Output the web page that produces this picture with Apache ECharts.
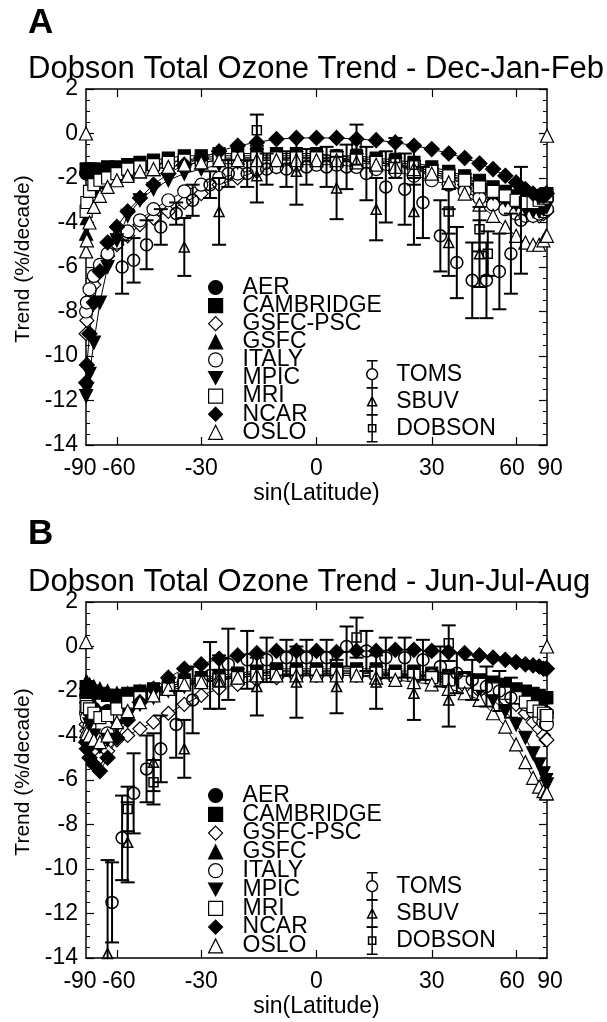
<!DOCTYPE html>
<html><head><meta charset="utf-8">
<script src="https://cdn.jsdelivr.net/npm/echarts@6/dist/echarts.min.js"></script>
<style>html,body{margin:0;padding:0;background:#fff}#c{width:607px;height:1022px}</style>
</head><body><div id="c"></div>
<script>
// ---------------- DATA ----------------
const LAT = [-88,-85,-80,-75,-70,-65,-60,-55,-50,-45,-40,-35,-30,-25,-20,-15,-10,-5,0,5,10,15,20,25,30,35,40,45,50,55,60,65,70,75,80,85,88];
const MODELS = ['AER','CAMBRIDGE','GSFC-PSC','GSFC','ITALY','MPIC','MRI','NCAR','OSLO'];
const OBS = ['TOMS','SBUV','DOBSON'];
const X_TICK_DEG = [-90,-60,-30,0,30,60,90];
const X_INNER_TICK_DEG = [-60,-30,0,30,60];
const Y_MIN = -14, Y_MAX = 2, Y_STEP = 2;

// Panel A: Dec-Jan-Feb model trends (%/decade) on LAT
const djfAER       = [-1.8,-1.8,-1.8,-1.8,-1.8,-1.8,-1.7,-1.6,-1.5,-1.4,-1.3,-1.2,-1.1,-1.0,-1.0,-1.0,-1.0,-1.0,-1.0,-1.0,-1.1,-1.2,-1.3,-1.4,-1.6,-1.8,-2.0,-2.3,-2.6,-2.9,-3.1,-3.2,-3.2,-3.1,-3.0,-2.9,-2.9];
const djfCAMBRIDGE = [-1.6,-1.6,-1.6,-1.6,-1.6,-1.5,-1.5,-1.4,-1.3,-1.2,-1.1,-1.0,-1.0,-0.9,-0.9,-0.9,-0.9,-0.9,-0.9,-1.0,-1.0,-1.1,-1.2,-1.3,-1.5,-1.7,-1.9,-2.1,-2.4,-2.6,-2.8,-3.0,-3.0,-2.9,-2.8,-2.7,-2.7];
const djfGSFCPSC   = [-9.0,-8.4,-7.6,-6.8,-6.1,-5.5,-5.0,-4.6,-4.1,-3.8,-3.5,-3.1,-2.7,-2.3,-2.0,-1.7,-1.5,-1.3,-1.2,-1.2,-1.2,-1.3,-1.4,-1.6,-1.8,-2.0,-2.3,-2.6,-2.9,-3.2,-3.4,-3.6,-3.7,-3.7,-3.6,-3.5,-3.5];
const djfGSFC      = [-4.5,-3.8,-3.0,-2.5,-2.2,-2.0,-1.9,-1.8,-1.7,-1.6,-1.5,-1.4,-1.3,-1.2,-1.1,-1.1,-1.1,-1.1,-1.1,-1.1,-1.2,-1.3,-1.4,-1.6,-1.8,-2.0,-2.2,-2.5,-2.8,-3.1,-3.3,-3.4,-3.4,-3.3,-3.2,-3.1,-3.1];
const djfITALY     = [-8.0,-7.6,-7.0,-6.4,-5.9,-5.4,-4.9,-4.4,-3.9,-3.4,-3.0,-2.6,-2.3,-2.0,-1.8,-1.6,-1.5,-1.4,-1.4,-1.4,-1.5,-1.6,-1.7,-1.9,-2.1,-2.3,-2.6,-2.9,-3.2,-3.4,-3.6,-3.7,-3.7,-3.6,-3.5,-3.4,-3.4];
const djfMPIC      = [-11.8,-11.5,-10.8,-9.4,-7.6,-6.0,-4.8,-3.7,-3.0,-2.5,-2.1,-1.8,-1.6,-1.4,-1.3,-1.2,-1.2,-1.1,-1.1,-1.1,-1.2,-1.3,-1.4,-1.5,-1.7,-1.9,-2.1,-2.4,-2.7,-3.0,-3.2,-3.4,-3.5,-3.5,-3.4,-3.3,-3.3];
const djfMRI       = [-3.5,-3.1,-2.6,-2.3,-2.1,-2.0,-1.8,-1.6,-1.5,-1.4,-1.3,-1.2,-1.2,-1.1,-1.1,-1.1,-1.1,-1.1,-1.1,-1.1,-1.2,-1.3,-1.4,-1.5,-1.7,-1.9,-2.1,-2.4,-2.6,-2.8,-3.0,-3.1,-3.1,-3.0,-2.9,-2.8,-2.8];
const djfNCAR      = [-11.2,-10.4,-9.0,-7.6,-6.2,-4.9,-4.2,-3.5,-2.9,-2.3,-1.8,-1.4,-1.1,-0.8,-0.55,-0.4,-0.25,-0.2,-0.2,-0.2,-0.25,-0.3,-0.4,-0.55,-0.7,-0.9,-1.1,-1.35,-1.6,-1.9,-2.2,-2.5,-2.7,-2.8,-2.8,-2.7,-2.7];
const djfOSLO      = [-5.3,-4.8,-4.0,-3.3,-2.8,-2.4,-2.1,-1.9,-1.7,-1.6,-1.5,-1.4,-1.3,-1.2,-1.2,-1.2,-1.2,-1.2,-1.2,-1.2,-1.3,-1.4,-1.5,-1.6,-1.8,-2.2,-2.7,-3.2,-3.7,-4.2,-4.6,-4.9,-5.0,-5.0,-4.8,-4.6,-4.6];
const OSLO_POLE_LAT = [-90, 90];
const djfOSLOPole  = [0.0, -0.1];

// Panel A observations
const djfTOMSLat = [-57.5,-52.5,-47.5,-42.5,-37.5,-32.5,-27.5,-22.5,-17.5,-12.5,-7.5,-2.5,2.5,7.5,12.5,17.5,22.5,27.5,32.5,37.5,42.5,47.5,52.5,57.5,62.5];
const djfTOMS    = [-6.0,-5.7,-5.0,-4.2,-3.6,-3.0,-2.3,-1.8,-1.8,-1.6,-1.6,-1.5,-1.5,-1.5,-1.8,-2.4,-2.5,-3.1,-4.6,-5.8,-6.6,-6.6,-6.2,-5.4,-3.9];
const djfTOMSErr = [1.2,1.0,1.1,0.8,0.5,0.7,0.6,0.6,0.6,0.7,0.8,0.8,0.9,1.0,1.2,1.6,1.6,1.6,1.6,1.6,1.7,1.7,1.7,1.8,2.4];
const djfSBUVLat = [-35,-25,-15,-5,5,15,25,35,45];
const djfSBUV    = [-5.1,-3.5,-1.9,-1.7,-2.45,-3.4,-3.5,-4.9,-5.4];
const djfSBUVErr = [1.3,1.5,1.2,1.5,1.4,1.4,1.5,1.5,1.5];
const djfDOBLat  = [-15,10,20,25,35,45,48];
const djfDOB     = [0.15,-0.5,-1.1,-1.4,-3.5,-4.3,-5.4];
const djfDOBErr  = [0.7,0.9,0.9,0.9,1.0,1.0,1.0];

// Panel B: Jun-Jul-Aug model trends
const jjaAER       = [-2.2,-2.3,-2.5,-2.8,-3.0,-2.9,-2.6,-2.4,-2.2,-2.0,-1.8,-1.6,-1.5,-1.4,-1.3,-1.2,-1.1,-1.1,-1.1,-1.1,-1.1,-1.2,-1.2,-1.3,-1.3,-1.4,-1.5,-1.6,-1.8,-2.0,-2.2,-2.4,-2.6,-2.8,-2.9,-3.0,-3.0];
const jjaCAMBRIDGE = [-1.8,-1.8,-1.9,-2.0,-2.1,-2.2,-2.2,-2.1,-2.0,-1.9,-1.7,-1.5,-1.4,-1.3,-1.2,-1.1,-1.0,-1.0,-1.0,-1.0,-1.0,-1.0,-1.1,-1.1,-1.2,-1.3,-1.4,-1.5,-1.6,-1.7,-1.9,-2.0,-2.1,-2.2,-2.3,-2.3,-2.3];
const jjaGSFCPSC   = [-3.5,-3.8,-4.3,-4.8,-5.0,-4.7,-4.2,-4.0,-3.7,-3.4,-3.0,-2.6,-2.2,-1.9,-1.7,-1.5,-1.4,-1.3,-1.3,-1.3,-1.3,-1.3,-1.3,-1.4,-1.5,-1.6,-1.8,-2.0,-2.2,-2.4,-2.6,-3.0,-3.4,-3.7,-4.0,-4.2,-4.2];
const jjaGSFC      = [-1.6,-1.6,-1.7,-1.8,-1.9,-2.0,-2.1,-2.1,-2.0,-1.9,-1.8,-1.6,-1.5,-1.4,-1.3,-1.2,-1.1,-1.1,-1.1,-1.1,-1.1,-1.1,-1.2,-1.2,-1.3,-1.4,-1.5,-1.6,-1.7,-1.9,-2.1,-2.3,-2.5,-2.7,-2.8,-2.9,-2.9];
const jjaITALY     = [-3.0,-3.2,-3.6,-4.0,-4.2,-3.9,-3.3,-2.8,-2.4,-2.1,-1.9,-1.7,-1.6,-1.5,-1.4,-1.3,-1.3,-1.3,-1.3,-1.3,-1.3,-1.3,-1.3,-1.3,-1.3,-1.4,-1.5,-1.7,-1.9,-2.1,-2.3,-2.6,-2.9,-3.2,-3.4,-3.5,-3.5];
const jjaMPIC      = [-2.8,-3.0,-3.5,-4.0,-4.5,-4.2,-3.6,-3.1,-2.6,-2.3,-2.0,-1.8,-1.6,-1.5,-1.3,-1.2,-1.2,-1.2,-1.2,-1.2,-1.2,-1.2,-1.3,-1.3,-1.4,-1.5,-1.7,-2.0,-2.4,-2.9,-3.5,-4.1,-4.8,-5.3,-5.7,-6.0,-6.2];
const jjaMRI       = [-2.6,-2.7,-2.8,-3.0,-3.2,-3.1,-2.8,-2.5,-2.3,-2.1,-1.9,-1.7,-1.6,-1.5,-1.4,-1.3,-1.3,-1.2,-1.2,-1.2,-1.2,-1.2,-1.3,-1.3,-1.4,-1.5,-1.6,-1.7,-1.9,-2.1,-2.3,-2.5,-2.7,-2.9,-3.0,-3.1,-3.1];
const jjaNCAR      = [-4.3,-4.6,-5.0,-5.3,-5.6,-5.0,-4.1,-3.3,-2.5,-1.9,-1.4,-1.0,-0.8,-0.55,-0.4,-0.3,-0.2,-0.2,-0.2,-0.25,-0.2,-0.2,-0.15,-0.15,-0.2,-0.25,-0.3,-0.4,-0.5,-0.6,-0.7,-0.8,-0.85,-0.9,-1.0,-1.0,-1.0];
const jjaOSLO      = [-3.8,-3.9,-4.0,-4.2,-4.3,-4.0,-3.4,-2.9,-2.5,-2.2,-1.9,-1.7,-1.6,-1.5,-1.4,-1.3,-1.3,-1.3,-1.3,-1.3,-1.3,-1.4,-1.5,-1.6,-1.7,-1.9,-2.1,-2.4,-3.0,-3.6,-4.4,-5.2,-5.9,-6.3,-6.5,-6.6,-6.6];
const jjaOSLOPole  = [0.2, 0.0];

// Panel B observations
const jjaTOMSLat = [-62.5,-57.5,-52.5,-47.5,-42.5,-37.5,-32.5,-27.5,-22.5,-17.5,-12.5,-7.5,-2.5,2.5,7.5,12.5,17.5,22.5,27.5,32.5,37.5,42.5,47.5,52.5,57.5];
const jjaTOMS    = [-11.5,-8.6,-6.6,-5.5,-4.6,-3.5,-2.4,-1.3,-0.8,-0.6,-0.6,-0.5,-0.5,-0.5,0.0,-0.2,-0.5,-0.5,-0.6,-0.9,-1.2,-1.5,-1.8,-2.0,-2.3];
const jjaTOMSErr = [1.8,1.9,1.8,1.5,1.5,1.5,1.5,1.5,1.6,1.3,1.0,0.8,0.8,0.8,0.9,0.9,0.9,0.9,0.9,0.9,0.9,0.9,0.9,0.9,0.9];
const jjaSBUVLat = [-65,-55,-45,-35,-25,-15,-5,5,15,25,35];
const jjaSBUV    = [-13.8,-8.8,-5.2,-4.6,-1.6,-1.8,-1.6,-1.8,-1.6,-2.1,-2.4];
const jjaSBUVErr = [4.2,1.8,1.3,1.3,1.2,1.3,1.6,1.2,1.2,1.2,1.2];
const jjaDOBLat  = [-55,-45,10,35];
const jjaDOB     = [-7.3,-6.1,0.4,0.15];
const jjaDOBErr  = [1.0,1.0,0.9,0.8];

// ---------------- STYLES ----------------
const FONT = '"Liberation Sans", Arial, Helvetica, sans-serif';
const DOWN_TRI = 'path://M0,0L10,0L5,9Z';
const MSTYLE = {
  'AER':       {symbol:'circle',   size:13, fill:'#000'},
  'CAMBRIDGE': {symbol:'rect',     size:12, fill:'#000'},
  'GSFC-PSC':  {symbol:'diamond',  size:14, fill:'#fff'},
  'GSFC':      {symbol:'triangle', size:13, fill:'#000'},
  'ITALY':     {symbol:'circle',   size:13, fill:'#fff'},
  'MPIC':      {symbol:DOWN_TRI,   size:13, fill:'#000'},
  'MRI':       {symbol:'rect',     size:12, fill:'#fff'},
  'NCAR':      {symbol:'diamond',  size:15, fill:'#000'},
  'OSLO':      {symbol:'triangle', size:13, fill:'#fff'}
};
const OSTYLE = {
  'TOMS':   {symbol:'circle',   size:12, icon:'path://M1,0L13,0M7,0L7,9M7,21L7,30M1,30L13,30M7,9A6,6,0,1,1,7,21A6,6,0,1,1,7,9Z'},
  'SBUV':   {symbol:'triangle', size:10, icon:'path://M1,0L13,0M7,0L7,30M1,30L13,30M7,10L12,20L2,20Z'},
  'DOBSON': {symbol:'rect',     size:9,  icon:'path://M1,0L13,0M7,0L7,30M1,30L13,30M3,11L11,11L11,19L3,19Z'}
};

const DEG = Math.PI / 180;
const sx = d => Math.sin(d * DEG);

const PANELS = [
  {
    letter:'A', title:'Dobson Total Ozone Trend - Dec-Jan-Feb',
    models:{'AER':djfAER,'CAMBRIDGE':djfCAMBRIDGE,'GSFC-PSC':djfGSFCPSC,'GSFC':djfGSFC,'ITALY':djfITALY,'MPIC':djfMPIC,'MRI':djfMRI,'NCAR':djfNCAR,'OSLO':djfOSLO},
    osloPole: djfOSLOPole,
    obs:{'TOMS':[djfTOMSLat,djfTOMS,djfTOMSErr],'SBUV':[djfSBUVLat,djfSBUV,djfSBUVErr],'DOBSON':[djfDOBLat,djfDOB,djfDOBErr]},
    gridTop:89, letterTop:6, titleTop:54, legTop:276, legGap:-4.9, obsTop:360, obsGap:-1.5
  },
  {
    letter:'B', title:'Dobson Total Ozone Trend - Jun-Jul-Aug',
    models:{'AER':jjaAER,'CAMBRIDGE':jjaCAMBRIDGE,'GSFC-PSC':jjaGSFCPSC,'GSFC':jjaGSFC,'ITALY':jjaITALY,'MPIC':jjaMPIC,'MRI':jjaMRI,'NCAR':jjaNCAR,'OSLO':jjaOSLO},
    osloPole: jjaOSLOPole,
    obs:{'TOMS':[jjaTOMSLat,jjaTOMS,jjaTOMSErr],'SBUV':[jjaSBUVLat,jjaSBUV,jjaSBUVErr],'DOBSON':[jjaDOBLat,jjaDOB,jjaDOBErr]},
    gridTop:602, letterTop:517, titleTop:567, legTop:784, legGap:-4.2, obsTop:872, obsGap:-1.3
  }
];

// ---------------- OPTION ----------------
const grids = [], xAxes = [], yAxes = [], series = [], titles = [], legends = [];

function labelFmt(v) {
  const d = Math.round(Math.asin(Math.max(-1, Math.min(1, v))) / DEG);
  if (d === -90) return '{l|-90}';
  if (d === -60) return '{m|-60}';
  if (d === 60) return '{s|60}';
  if (d === 90) return '{r|90}';
  return '{n|' + d + '}';
}
const RICH_BASE = {fontSize:23, fontFamily:FONT, color:'#000'};
const RICH = {
  n: Object.assign({}, RICH_BASE),
  l: Object.assign({padding:[0,12,0,0]}, RICH_BASE),
  m: Object.assign({padding:[0,0,0,4]}, RICH_BASE),
  s: Object.assign({padding:[0,8,0,0]}, RICH_BASE),
  r: Object.assign({padding:[0,0,0,6]}, RICH_BASE)
};

PANELS.forEach((P, pi) => {
  grids.push({left:86, top:P.gridTop, width:461, height:356, containLabel:false});
  const xi = pi * 2, yi = pi * 2;
  xAxes.push({
    type:'value', gridIndex:pi, position:'bottom', min:-1, max:1,
    name:'sin(Latitude)', nameLocation:'middle', nameGap:37,
    nameTextStyle:{fontSize:23, fontFamily:FONT, color:'#000'},
    axisLine:{show:true, onZero:false, lineStyle:{color:'#000', width:1.5}},
    axisTick:{show:true, inside:true, length:8, lineStyle:{color:'#000', width:1.2}, customValues:X_INNER_TICK_DEG.map(sx)},
    axisLabel:{show:true, margin:12, customValues:X_TICK_DEG.map(sx), formatter:labelFmt, rich:RICH, fontSize:23, fontFamily:FONT, color:'#000'},
    splitLine:{show:false}
  });
  xAxes.push({
    type:'value', gridIndex:pi, position:'top', min:-1, max:1,
    axisLine:{show:true, onZero:false, lineStyle:{color:'#000', width:1.5}},
    axisTick:{show:true, inside:true, length:8, lineStyle:{color:'#000', width:1.2}, customValues:X_INNER_TICK_DEG.map(sx)},
    axisLabel:{show:false}, splitLine:{show:false}
  });
  yAxes.push({
    type:'value', gridIndex:pi, position:'left', min:Y_MIN, max:Y_MAX, interval:Y_STEP,
    name:'Trend (%/decade)', nameLocation:'middle', nameGap:52,
    nameTextStyle:{fontSize:21, fontFamily:FONT, color:'#000', padding:[0,0,0,16]},
    axisLine:{show:true, onZero:false, lineStyle:{color:'#000', width:1.5}},
    axisTick:{show:true, inside:true, length:8, lineStyle:{color:'#000', width:1.2}},
    minorTick:{show:true, splitNumber:4, length:4, lineStyle:{color:'#000', width:1}},
    axisLabel:{show:true, margin:8, fontSize:23, fontFamily:FONT, color:'#000'},
    splitLine:{show:false}, minorSplitLine:{show:false}
  });
  yAxes.push({
    type:'value', gridIndex:pi, position:'right', min:Y_MIN, max:Y_MAX, interval:Y_STEP,
    axisLine:{show:true, onZero:false, lineStyle:{color:'#000', width:1.5}},
    axisTick:{show:true, inside:true, length:8, lineStyle:{color:'#000', width:1.2}},
    minorTick:{show:true, splitNumber:4, length:4, lineStyle:{color:'#000', width:1}},
    axisLabel:{show:false}, splitLine:{show:false}
  });

  titles.push({text:P.letter, left:28, top:P.letterTop, padding:0,
    textStyle:{fontSize:35, fontWeight:'bold', fontFamily:FONT, color:'#000'}});
  titles.push({text:P.title, left:28, top:P.titleTop, padding:0,
    textStyle:{fontSize:31, fontWeight:'normal', fontFamily:FONT, color:'#000'}});

  MODELS.forEach(m => {
    const pts = LAT.map((l, i) => [sx(l), P.models[m][i]]);
    series.push({
      type:'line', name:m + ' curve', xAxisIndex:xi, yAxisIndex:yi, data:pts,
      showSymbol:false, symbol:'none', z:2, silent:true,
      lineStyle:{color:'#000', width:1}
    });
  });
  MODELS.forEach(m => {
    const st = MSTYLE[m];
    let pts = LAT.map((l, i) => [sx(l), P.models[m][i]]);
    if (m === 'OSLO') pts = pts.concat(OSLO_POLE_LAT.map((l, i) => [sx(l), P.osloPole[i]]));
    series.push({
      type:'scatter', name:m, xAxisIndex:xi, yAxisIndex:yi, data:pts,
      symbol:st.symbol, symbolSize:st.size, z:3, silent:true,
      itemStyle:{color:st.fill, borderColor:'#000', borderWidth:1.2, opacity:1}
    });
  });
  OBS.forEach(o => {
    const [lats, vals, errs] = P.obs[o];
    const pts = lats.map((l, i) => [sx(l), vals[i], errs[i]]);
    series.push({
      type:'scatter', name:o, xAxisIndex:xi, yAxisIndex:yi,
      data:pts.map(p => [p[0], p[1]]),
      symbol:OSTYLE[o].symbol, symbolSize:OSTYLE[o].size, z:6, silent:true,
      itemStyle:{color:'rgba(0,0,0,0)', borderColor:'#000', borderWidth:1.5, opacity:1}
    });
    series.push({
      type:'custom', name:o + ' error', xAxisIndex:xi, yAxisIndex:yi, data:pts, z:5, silent:true,
      renderItem:(params, api) => {
        const x = api.value(0), y = api.value(1), e = api.value(2);
        const hiV = Math.min(y + e, Y_MAX), loV = Math.max(y - e, Y_MIN);
        const p1 = api.coord([x, hiV]), p2 = api.coord([x, loV]);
        const cw = 7;
        const st = {stroke:'#000', lineWidth:2};
        const ch = [{type:'line', shape:{x1:p1[0], y1:p1[1], x2:p2[0], y2:p2[1]}, style:st}];
        if (y + e <= Y_MAX) ch.push({type:'line', shape:{x1:p1[0]-cw, y1:p1[1], x2:p1[0]+cw, y2:p1[1]}, style:st});
        if (y - e >= Y_MIN) ch.push({type:'line', shape:{x1:p2[0]-cw, y1:p2[1], x2:p2[0]+cw, y2:p2[1]}, style:st});
        return {type:'group', children:ch};
      }
    });
  });

  legends.push({
    orient:'vertical', left:208, top:P.legTop, itemWidth:14, itemHeight:14, itemGap:P.legGap,
    selectedMode:false, padding:0, symbolKeepAspect:true,
    textStyle:{fontSize:23, fontFamily:FONT, color:'#000', padding:[0,0,0,15]},
    data:MODELS.map(m => ({name:m, icon:MSTYLE[m].symbol,
      itemStyle:{color:MSTYLE[m].fill, borderColor:'#000', borderWidth:1.2}}))
  });
  legends.push({
    orient:'vertical', left:366, top:P.obsTop, itemWidth:14, itemHeight:27, itemGap:P.obsGap,
    selectedMode:false, padding:0, symbolKeepAspect:true,
    textStyle:{fontSize:23, fontFamily:FONT, color:'#000', padding:[0,0,0,12]},
    data:OBS.map(o => ({name:o, icon:OSTYLE[o].icon,
      itemStyle:{color:'rgba(0,0,0,0)', borderColor:'#000', borderWidth:1.5}}))
  });
});

const chart = echarts.init(document.getElementById('c'), null, {renderer:'canvas'});
chart.setOption({
  backgroundColor:'#fff', animation:false,
  title:titles, grid:grids, xAxis:xAxes, yAxis:yAxes, legend:legends, series:series
});
</script></body></html>
